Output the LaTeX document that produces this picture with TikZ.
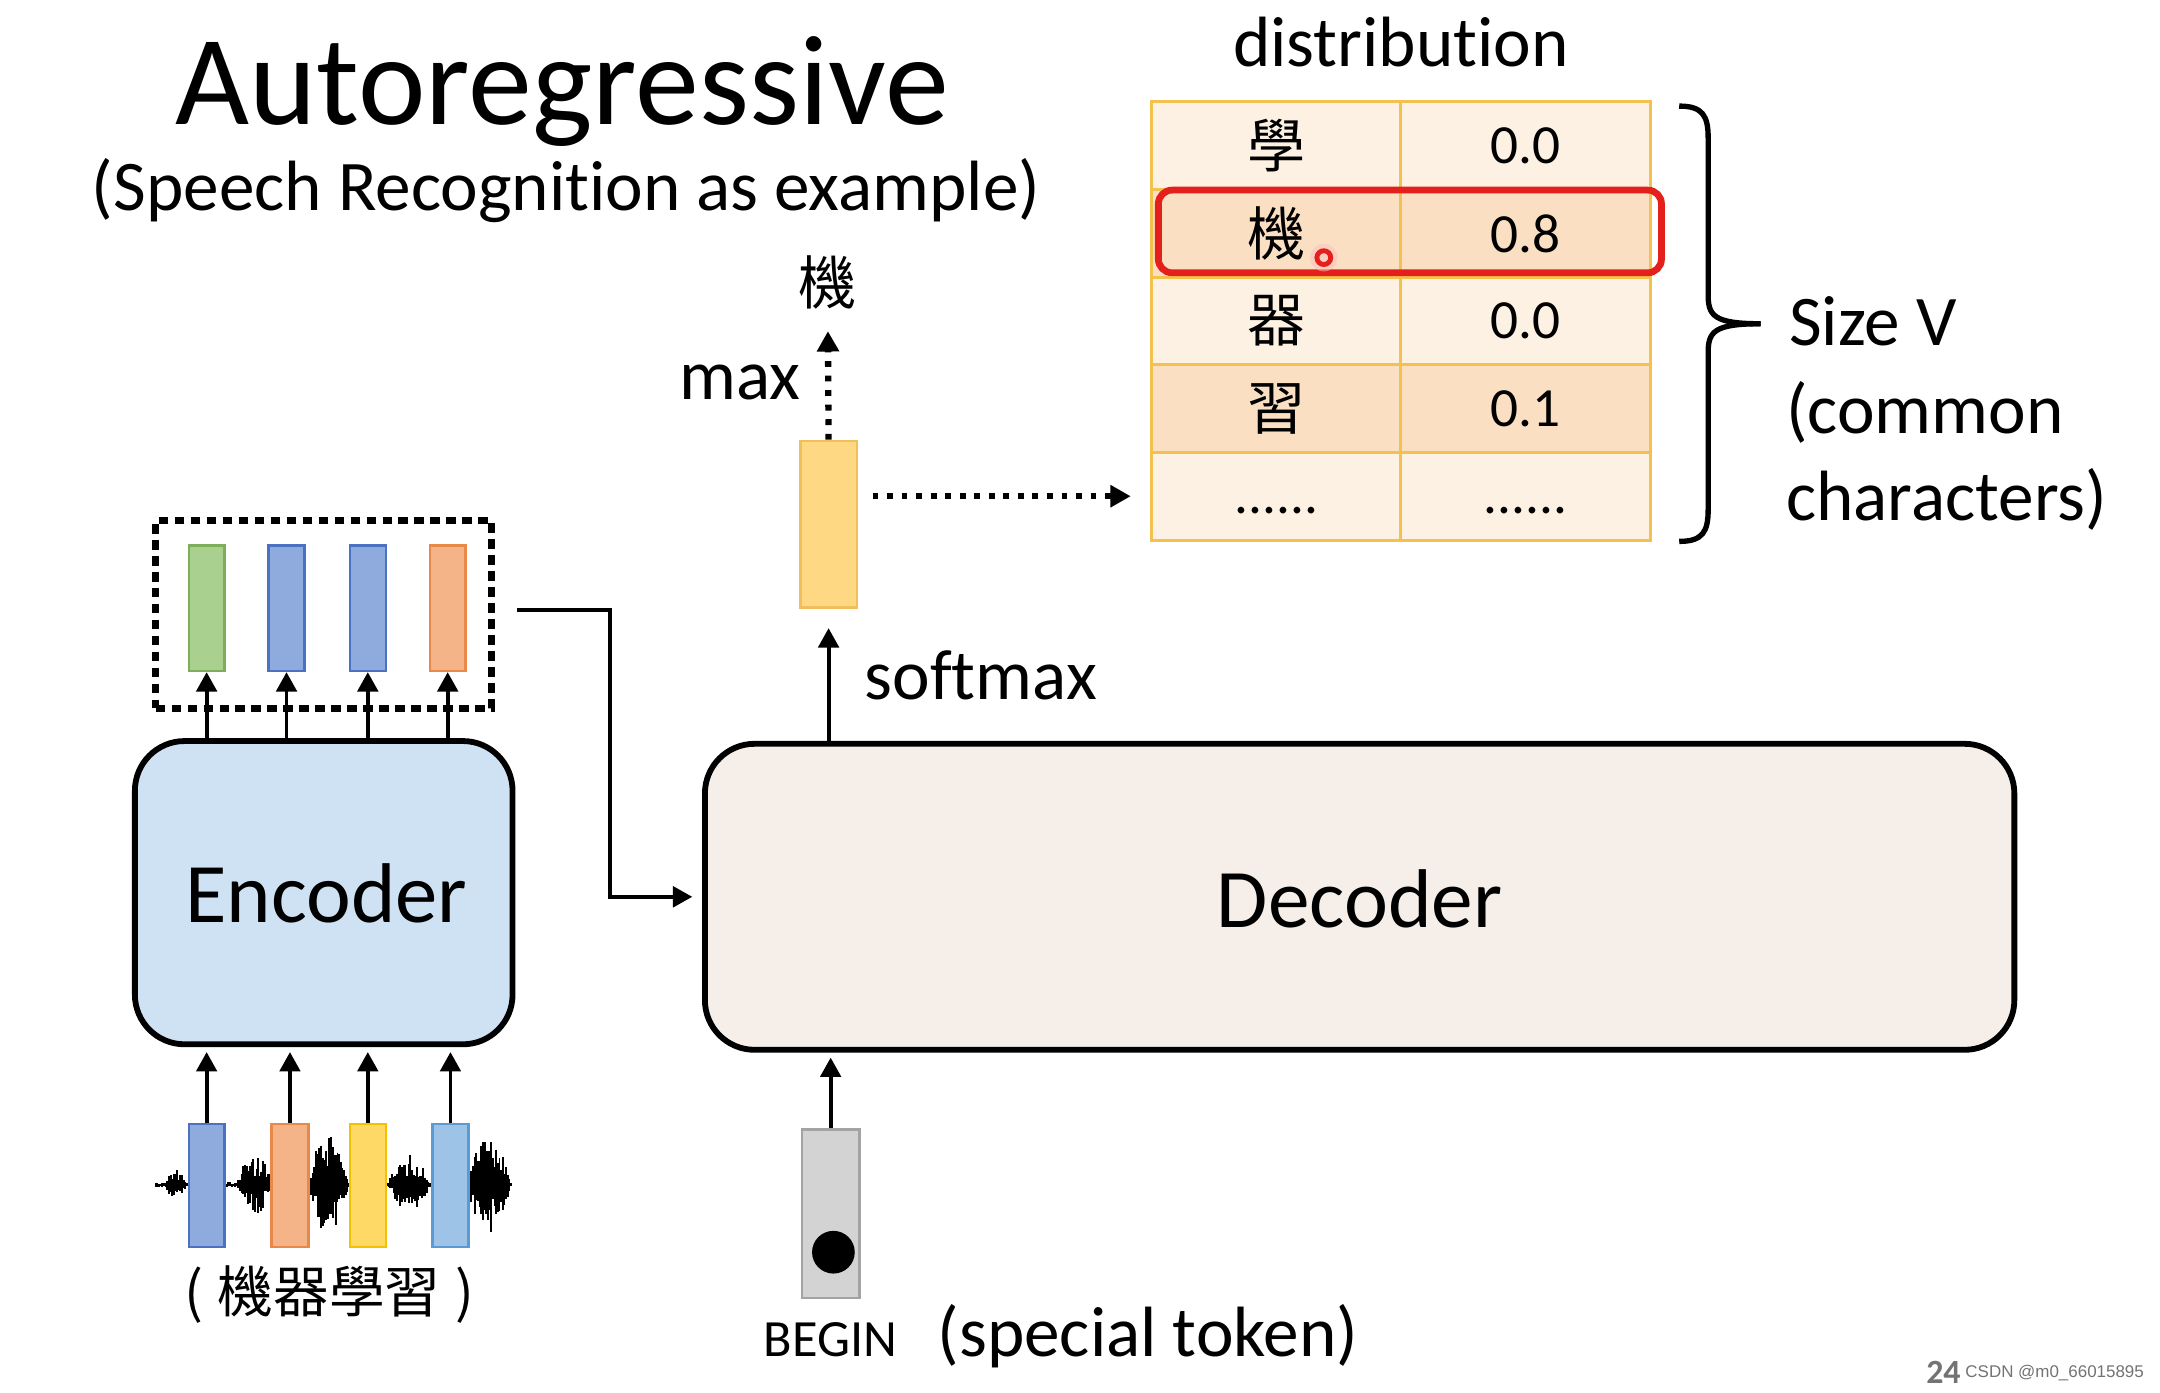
\documentclass[tikz,border=0pt]{standalone}
\usepackage{fontspec}
\setmainfont{Carlito}[Ligatures={NoCommon}]
\newfontfamily\cjk{Noto Sans CJK TC}
\newfontfamily\wmfont{Liberation Sans}
\usetikzlibrary{arrows.meta,calc}
\definecolor{tblline}{HTML}{F2C14E}
\definecolor{tbllight}{HTML}{FDF1E4}
\definecolor{tbldark}{HTML}{FADFC2}
\definecolor{hlred}{HTML}{E3201B}
\definecolor{encfill}{HTML}{CFE2F4}
\definecolor{decfill}{HTML}{F6EFE9}
\definecolor{gfill}{HTML}{A9D08E}\definecolor{gline}{HTML}{7FAE5A}
\definecolor{bfill}{HTML}{8FAADC}\definecolor{bline}{HTML}{4A72C0}
\definecolor{ofill}{HTML}{F5B487}\definecolor{oline}{HTML}{E8894A}
\definecolor{yfill}{HTML}{FFD966}\definecolor{yline}{HTML}{F5C000}
\definecolor{lbfill}{HTML}{9DC3E6}\definecolor{lbline}{HTML}{5B9BD5}
\definecolor{ybfill}{HTML}{FFD884}\definecolor{ybline}{HTML}{F0BE5A}
\definecolor{gyfill}{HTML}{D3D3D3}\definecolor{gyline}{HTML}{A3A3A3}
\begin{document}
\begin{tikzpicture}[x=0.01cm,y=-0.01cm,
  arr/.style={line width=0.8pt,-{Triangle[length=4pt,width=4.2pt]}},
  dotarr/.style={line width=1.3pt,dash pattern=on 1.2pt off 1.8pt,-{Triangle[length=4.2pt,width=4.4pt]}},
  bar/.style={draw,line width=0.5pt,minimum width=0.26cm,minimum height=0.91cm,inner sep=0pt},
  cell/.style={draw=tblline,line width=0.6pt,minimum width=1.81cm,minimum height=0.636cm,inner sep=0pt},
  cjkc/.style={font=\cjk\fontsize{12}{14}\selectfont},
  numc/.style={font=\fontsize{11.4}{13}\selectfont},
  lbl/.style={font=\fontsize{14.7}{17}\selectfont,inner sep=0pt},
  block/.style={draw=black,line width=1.2pt,rounded corners=0.36cm,inner sep=0pt},
  wave/.style={line width=0.4pt,black}
]
\useasboundingbox[fill=white] (0,0) rectangle (1568,1010.5);

% titles
\node[font=\fontsize{26.4}{30}\selectfont,anchor=base] (title) at (408,90) {Autoregressive};
\node[lbl,anchor=base] (sub) at (411,153) {(Speech Recognition as example)};
\node[lbl,anchor=base] (dist) at (1017,48) {distribution};

% table
\node[cell,fill=tbllight,cjkc] (c11) at (926.5,105.8) {學};
\node[cell,fill=tbllight,numc] (c12) at (1107.5,105.8) {0.0};
\node[cell,fill=tbldark,cjkc] (c21) at (926.5,169.4) {機};
\node[cell,fill=tbldark,numc] (c22) at (1107.5,169.4) {0.8};
\node[cell,fill=tbllight,cjkc] (c31) at (926.5,233) {器};
\node[cell,fill=tbllight,numc] (c32) at (1107.5,233) {0.0};
\node[cell,fill=tbldark,cjkc] (c41) at (926.5,296.6) {習};
\node[cell,fill=tbldark,numc] (c42) at (1107.5,296.6) {0.1};
\node[cell,fill=tbllight,numc] (c51) at (926.5,360.2) {\vphantom{0}......};
\node[cell,fill=tbllight,numc] (c52) at (1107.5,360.2) {\vphantom{0}......};

% highlight
\node[draw=hlred,line width=1.4pt,rounded corners=0.1cm,minimum width=3.65cm,minimum height=0.6cm,inner sep=0pt] (hl) at (1023.5,168) {};
\fill[red!25,opacity=0.5] (961,187) circle (10);
\node[circle,draw=hlred,line width=1pt,minimum size=0.1cm,inner sep=0pt] (ptr) at (961,187) {};

% brace
\draw[line width=1.1pt] (1219,77) .. controls (1236,77) and (1240,84) .. (1240,100) -- (1240,214)
  .. controls (1240,229) and (1244,235) .. (1278,235);
\draw[line width=1.1pt] (1278,235) .. controls (1244,235) and (1240,241) .. (1240,256) -- (1240,370)
  .. controls (1240,386) and (1236,393) .. (1219,393);
\node[lbl,anchor=base west] (sv1) at (1298,251) {Size V};
\node[lbl,anchor=base west] (sv2) at (1296,315) {(common};
\node[lbl,anchor=base west] (sv3) at (1296,378) {characters)};

% yellow output vector
\node[draw=ybline,fill=ybfill,line width=0.5pt,minimum width=0.41cm,minimum height=1.21cm,inner sep=0pt] (yb) at (601.5,380.5) {};
\node[font=\cjk\fontsize{12}{14}\selectfont] (out) at (601,205) {機};
\node[lbl,anchor=base east] (maxl) at (582,290) {max};
\draw[dotarr,shorten >=1pt] (yb.north) -- (out.south);
\draw[dotarr,shorten <=3pt,shorten >=4pt] (yb.east |- c51.west) -- (c51.west);

% decoder
\node[block,fill=decfill,minimum width=9.5cm,minimum height=2.22cm] (dec) at (987,651) {};
\node[font=\fontsize{17.2}{20}\selectfont,anchor=base] (decl) at (987,673) {Decoder};
\draw[arr,shorten >=4pt] (dec.north -| yb.south) -- (yb.south);
\node[lbl,anchor=base west] (smax) at (627,508) {softmax};

% BEGIN token
\node[draw=gyline,fill=gyfill,line width=0.5pt,minimum width=0.42cm,minimum height=1.22cm,inner sep=0pt] (bg) at (603,881) {};
\fill[black] (605,909) circle (15.5);
\draw[arr,shorten >=1pt] (bg.north) -- (bg.north |- dec.south);
\node[font=\fontsize{10.8}{13}\selectfont,anchor=base] (begl) at (603,985) {BEGIN};
\node[lbl,anchor=base west] (spec) at (680,985) {(special token)};

% encoder
\node[block,fill=encfill,minimum width=2.74cm,minimum height=2.2cm] (enc) at (235,648) {};
\node[font=\fontsize{17.5}{20}\selectfont,anchor=base] (encl) at (237,670) {Encoder};

% encoder outputs
\node[draw,line width=1.4pt,dash pattern=on 2pt off 1.3pt,minimum width=2.44cm,minimum height=1.36cm,inner sep=0pt] (obox) at (235,446) {};
\node[bar,fill=gfill,draw=gline] (ob1) at (150,441.5) {};
\node[bar,fill=bfill,draw=bline] (ob2) at (208,441.5) {};
\node[bar,fill=bfill,draw=bline] (ob3) at (267,441.5) {};
\node[bar,fill=ofill,draw=oline] (ob4) at (325,441.5) {};
\foreach \i in {1,...,4}{
  \draw[arr] (ob\i.south |- enc.north) -- (ob\i.south);
}

% encoder -> decoder
\coordinate (ostart) at ($(obox.east)+(16,-3)$);
\draw[line width=0.9pt,-{Triangle[length=4pt,width=4.2pt]},shorten >=2pt] (ostart) -- (443,443) |- (dec.west);

% waveform
\pgfmathsetseed{11}
\draw[wave] (113,860) -- (372,860);
\foreach \x in {113,114.2,...,372}{
  \pgfmathsetmacro\ua{(\x-128)/8}
  \pgfmathsetmacro\ub{(\x-185)/13}
  \pgfmathsetmacro\uc{(\x-238)/15}
  \pgfmathsetmacro\ud{(\x-297)/15}
  \pgfmathsetmacro\ue{(\x-355)/16}
  \pgfmathsetmacro\env{2+9*max(0,1-\ua*\ua)+20*max(0,1-\ub*\ub)+34*max(0,1-\uc*\uc)+20*max(0,1-\ud*\ud)+33*max(0,1-\ue*\ue)}
  \pgfmathsetmacro\wa{\env*(0.3+0.7*rnd)}
  \pgfmathsetmacro\wb{\env*(0.3+0.7*rnd)}
  \draw[wave] (\x,860-\wa) -- (\x,860+\wb);
}

% encoder inputs
\node[bar,fill=bfill,draw=bline,minimum height=0.89cm] (ib1) at (150,860.5) {};
\node[bar,fill=ofill,draw=oline,minimum height=0.89cm,minimum width=0.27cm] (ib2) at (210.5,860.5) {};
\node[bar,fill=yfill,draw=yline,minimum height=0.89cm] (ib3) at (267,860.5) {};
\node[bar,fill=lbfill,draw=lbline,minimum height=0.89cm] (ib4) at (327,860.5) {};
\foreach \i in {1,...,4}{
  \draw[arr,shorten >=1pt] (ib\i.north) -- (ib\i.north |- enc.south);
}
\node[font=\cjk\fontsize{11.5}{14}\selectfont] (inl) at (239,940) {(\hspace{3pt}機器學習\hspace{3pt})};

% page number and watermark
\node[font=\bfseries\fontsize{7}{8}\selectfont,text=black!55,anchor=base east,inner sep=0pt] (pg) at (1424,1004) {24};
\node[font=\wmfont\fontsize{3.5}{4}\selectfont,text=black!55,anchor=base east,inner sep=0pt] (wm) at (1557,1000) {CSDN @m0\_66015895};
\end{tikzpicture}
\end{document}
